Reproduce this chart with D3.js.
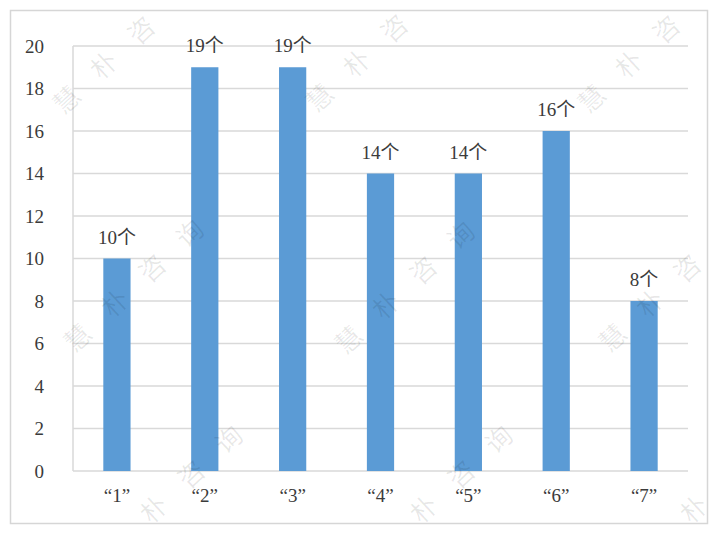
<!DOCTYPE html>
<html>
<head>
<meta charset="utf-8">
<script src="https://cdn.jsdelivr.net/npm/d3@7"></script>
<style>
  html, body { margin: 0; padding: 0; background: #ffffff; }
  svg { display: block; }
</style>
</head>
<body>
<svg id="chart" width="718" height="534"></svg>
<script>
// ---- data ----
const categories = ["“1”", "“2”", "“3”", "“4”", "“5”", "“6”", "“7”"];
const values = [10, 19, 19, 14, 14, 16, 8];
const valueLabels = ["10个", "19个", "19个", "14个", "14个", "16个", "8个"];
const yTicks = [0, 2, 4, 6, 8, 10, 12, 14, 16, 18, 20];
const watermarkText = "慧朴咨询";

// ---- layout ----
const W = 718, H = 534;
const plot = { left: 73, right: 688, top: 46, bottom: 471 };
const svg = d3.select("#chart");
const textColor = "#3b3b3b";
const serif = "'Liberation Serif', 'Times New Roman', serif";

// outer frame
svg.append("rect")
  .attr("x", 10.5).attr("y", 10.5)
  .attr("width", 697).attr("height", 513)
  .attr("fill", "#ffffff")
  .attr("stroke", "#d6d6d6").attr("stroke-width", 1.5);

const x = d3.scaleBand()
  .domain(categories)
  .range([plot.left, plot.right])
  .paddingInner(0.69)
  .paddingOuter(0.345);

const y = d3.scaleLinear()
  .domain([0, 20])
  .range([plot.bottom, plot.top]);

// gridlines
svg.append("g")
  .selectAll("line")
  .data(yTicks)
  .join("line")
  .attr("x1", plot.left).attr("x2", plot.right)
  .attr("y1", d => y(d)).attr("y2", d => y(d))
  .attr("stroke", "#d9d9d9").attr("stroke-width", 1.5);

// left vertical line
svg.append("line")
  .attr("x1", plot.left).attr("x2", plot.left)
  .attr("y1", y(20)).attr("y2", y(0))
  .attr("stroke", "#d9d9d9").attr("stroke-width", 1.5);

// y axis labels
const yAxis = d3.axisLeft(y).tickValues(yTicks).tickSize(0).tickPadding(29);
const gy = svg.append("g")
  .attr("transform", `translate(${plot.left},0)`)
  .call(yAxis);
gy.select(".domain").remove();
gy.selectAll("text")
  .attr("font-family", serif)
  .attr("font-size", 19)
  .attr("fill", textColor)
  .attr("dy", "0.34em");

// x axis labels
const xAxis = d3.axisBottom(x).tickSize(0).tickPadding(18);
const gx = svg.append("g")
  .attr("transform", `translate(0,${plot.bottom})`)
  .call(xAxis);
gx.select(".domain").remove();
gx.selectAll("text")
  .attr("font-family", serif)
  .attr("font-size", 19)
  .attr("fill", textColor);

// bars
svg.append("g")
  .selectAll("rect")
  .data(values)
  .join("rect")
  .attr("x", (d, i) => x(categories[i]))
  .attr("y", d => y(d))
  .attr("width", x.bandwidth())
  .attr("height", d => y(0) - y(d))
  .attr("fill", "#5b9bd5");

// value labels
svg.append("g")
  .selectAll("text")
  .data(values)
  .join("text")
  .attr("x", (d, i) => x(categories[i]) + x.bandwidth() / 2)
  .attr("y", d => y(d) - 15)
  .attr("text-anchor", "middle")
  .attr("font-family", serif + ", 'Noto Sans CJK SC'")
  .attr("font-size", 19)
  .attr("fill", textColor)
  .text((d, i) => valueLabels[i]);

// watermarks (only characters that fall inside the frame)
const wmCenters = [
  [123, 48], [376, 46], [648, 47],
  [134, 286], [405, 288], [669, 286],
  [173, 492], [443, 492], [713, 492]
];
const ang = -43 * Math.PI / 180, gap = 51;
const chars = [];
wmCenters.forEach(([cx, cy]) => {
  Array.from(watermarkText).forEach((ch, k) => {
    const px = cx + (k - 1.5) * gap * Math.cos(ang);
    const py = cy + (k - 1.5) * gap * Math.sin(ang);
    if (px >= 16 && px <= 702 && py >= 18 && py <= 518) chars.push({ ch, px, py });
  });
});
svg.append("g").attr("pointer-events", "none")
  .selectAll("text")
  .data(chars)
  .join("text")
  .attr("transform", d => `translate(${d.px},${d.py}) rotate(-43)`)
  .attr("dy", "0.35em")
  .attr("text-anchor", "middle")
  .attr("font-family", "'Noto Sans CJK SC', sans-serif")
  .attr("font-size", 26)
  .attr("fill", "#000")
  .attr("fill-opacity", 0.09)
  .text(d => d.ch);
</script>
</body>
</html>
